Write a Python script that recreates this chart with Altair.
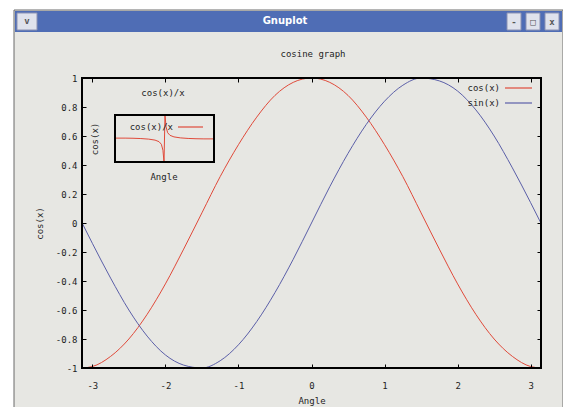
import altair as alt
import pandas as pd

# ---------------- data ----------------
angle = [-3.14, -3.0, -2.75, -2.5, -2.25, -2.0, -1.75, -1.5, -1.25, -1.0, -0.75, -0.5, -0.25, 0.0,
         0.25, 0.5, 0.75, 1.0, 1.25, 1.5, 1.75, 2.0, 2.25, 2.5, 2.75, 3.0, 3.14]
cos_vals = [-1.00, -0.99, -0.92, -0.80, -0.63, -0.42, -0.18, 0.07, 0.32, 0.54, 0.73, 0.88, 0.97, 1.00,
            0.97, 0.88, 0.73, 0.54, 0.32, 0.07, -0.18, -0.42, -0.63, -0.80, -0.92, -0.99, -1.00]
sin_vals = [0.00, -0.14, -0.38, -0.60, -0.78, -0.91, -0.98, -1.00, -0.95, -0.84, -0.68, -0.48, -0.25, 0.00,
            0.25, 0.48, 0.68, 0.84, 0.95, 1.00, 0.98, 0.91, 0.78, 0.60, 0.38, 0.14, 0.00]

inset_angle = [-3.14, -2.5, -2.0, -1.5, -1.0, -0.6, -0.35, -0.2, -0.1, -0.03,
               0.03, 0.1, 0.2, 0.35, 0.6, 1.0, 1.5, 2.0, 2.5, 3.14]
inset_vals = [0.32, 0.32, 0.21, -0.05, -0.54, -1.38, -2.68, -4.90, -9.95, -33.3,
              33.3, 9.95, 4.90, 2.68, 1.38, 0.54, 0.05, -0.21, -0.32, -0.32]

x_ticks = [-3, -2, -1, 0, 1, 2, 3]
y_ticks = [-1, -0.8, -0.6, -0.4, -0.2, 0, 0.2, 0.4, 0.6, 0.8, 1]
series_labels = ["cos(x)", "sin(x)"]
inset_label = "cos(x)/x"
title_text = "cosine graph"
x_title = "Angle"
y_title = "cos(x)"
window_title = "Gnuplot"
button_glyphs = ["-", "\u25a1", "x"]

# ---------------- styles ----------------
FONT = "DejaVu Sans Mono"
RED = "#e04a3a"
BLUE = "#5b5fa8"
TXT = "#1e1e1e"
W, H = 459, 290

one = lambda: pd.DataFrame({"t": [""]})


def label(text, x, y, **kw):
    opts = dict(font=FONT, fontSize=9, color=TXT)
    opts.update(kw)
    return alt.Chart(pd.DataFrame({"t": [text]})).mark_text(**opts).encode(
        x=alt.value(x), y=alt.value(y), text="t:N")


def box(x1, x2, y1, y2, **kw):
    return alt.Chart(one()).mark_rect(**kw).encode(
        x=alt.value(x1), x2=alt.value(x2), y=alt.value(y1), y2=alt.value(y2))


def hline(x1, x2, y, color, width=1.2):
    return alt.Chart(one()).mark_rule(color=color, strokeWidth=width).encode(
        x=alt.value(x1), x2=alt.value(x2), y=alt.value(y))


common = dict(domain=False, grid=False, ticks=True, tickSize=4, tickColor="black", tickWidth=1,
              offset=-4, zindex=1, labelFont=FONT, labelFontSize=9, labelColor=TXT,
              titleFont=FONT, titleFontSize=9, titleFontWeight="normal", titleColor=TXT)

x_bottom = alt.Axis(orient="bottom", values=x_ticks, labelExpr="'' + datum.value",
                    labelPadding=13, title=x_title, titlePadding=6, **common)
x_top = alt.Axis(orient="top", values=x_ticks, labels=False, title=None, **common)
y_left = alt.Axis(orient="left", values=y_ticks, labelExpr="'' + datum.value",
                  labelPadding=5, title=y_title, titlePadding=11, **common)
y_right = alt.Axis(orient="right", values=y_ticks, labels=False, title=None, **common)

df = pd.DataFrame({"angle": angle, "cos": cos_vals, "sin": sin_vals})
xs = alt.Scale(domain=[-3.1416, 3.1416], nice=False, zero=False)
ys = alt.Scale(domain=[-1, 1], nice=False, zero=False)

cos_line = alt.Chart(df).mark_line(color=RED, strokeWidth=1, interpolate="monotone").encode(
    x=alt.X("angle:Q", scale=xs, axis=x_bottom),
    y=alt.Y("cos:Q", scale=ys, axis=y_left))
sin_line = alt.Chart(df).mark_line(color=BLUE, strokeWidth=1, interpolate="monotone").encode(
    x=alt.X("angle:Q", scale=xs, axis=x_top),
    y=alt.Y("sin:Q", scale=ys, axis=y_right))
main = alt.layer(cos_line, sin_line).resolve_axis(x="independent", y="independent")

# ---------------- inset plot ----------------
inset_df = pd.DataFrame({"a": inset_angle, "v": inset_vals})
inset_line = alt.Chart(inset_df).mark_line(color=RED, strokeWidth=1).encode(
    x=alt.X("a:Q", scale=alt.Scale(domain=[-3.1416, 3.1416], range=[33, 132], nice=False, zero=False), axis=None),
    y=alt.Y("v:Q", scale=alt.Scale(domain=[-20, 20], range=[84, 37], clamp=True, nice=False, zero=False), axis=None))
inset_box = box(33, 132, 37, 84, fill=None, fillOpacity=0, stroke="black", strokeWidth=2)

# ---------------- window chrome ----------------
window = box(-68, 481, -68, 345, fill="#e7e7e3", stroke="#6a6a6a", strokeWidth=1)
titlebar = box(-67, 480, -67, -46, fill="#4f6db5")
btn_left = box(-65, -45, -65, -48, fill="#dfe2ec", stroke="#8c93b3", strokeWidth=1)
btns = [box(x1, x1 + 14, -65, -48, fill="#dfe2ec", stroke="#8c93b3", strokeWidth=1)
        for x1 in [425, 444, 463]]
btn_txt = [label(g, x1 + 7, -56, fontSize=9, color="#555", fontWeight="bold")
           for g, x1 in zip(button_glyphs, [425, 444, 463])]

layers = [
    window, titlebar, btn_left,
    label("v", -55, -57, fontSize=9, color="#555", fontWeight="bold"),
    *btns, *btn_txt,
    label(window_title, 203, -57, font="DejaVu Sans", fontSize=10, color="white", fontWeight="bold"),
    label(title_text, 231, -24),
    main,
    inset_line, inset_box,
    label(inset_label, 81, 15),
    label(inset_label, 91, 49, align="right"),
    hline(96, 121, 49, RED),
    label(x_title, 82, 99),
    label(y_title, 13, 61, angle=270),
    label(series_labels[0], 418, 10, align="right"),
    hline(423, 450, 10, RED),
    label(series_labels[1], 418, 25, align="right"),
    hline(423, 450, 25, BLUE),
    box(0, W, 0, H, fill=None, fillOpacity=0, stroke="black", strokeWidth=2),
]

chart = alt.layer(*layers).resolve_scale(x="independent", y="independent").properties(
    width=W, height=H,
    autosize=alt.AutoSizeParams(type="none"),
    padding={"left": 74, "top": 70, "right": 22, "bottom": 39},
    background="white",
).configure_view(stroke=None)

chart.save("out.html", embed_options={"renderer": "svg", "actions": False})
